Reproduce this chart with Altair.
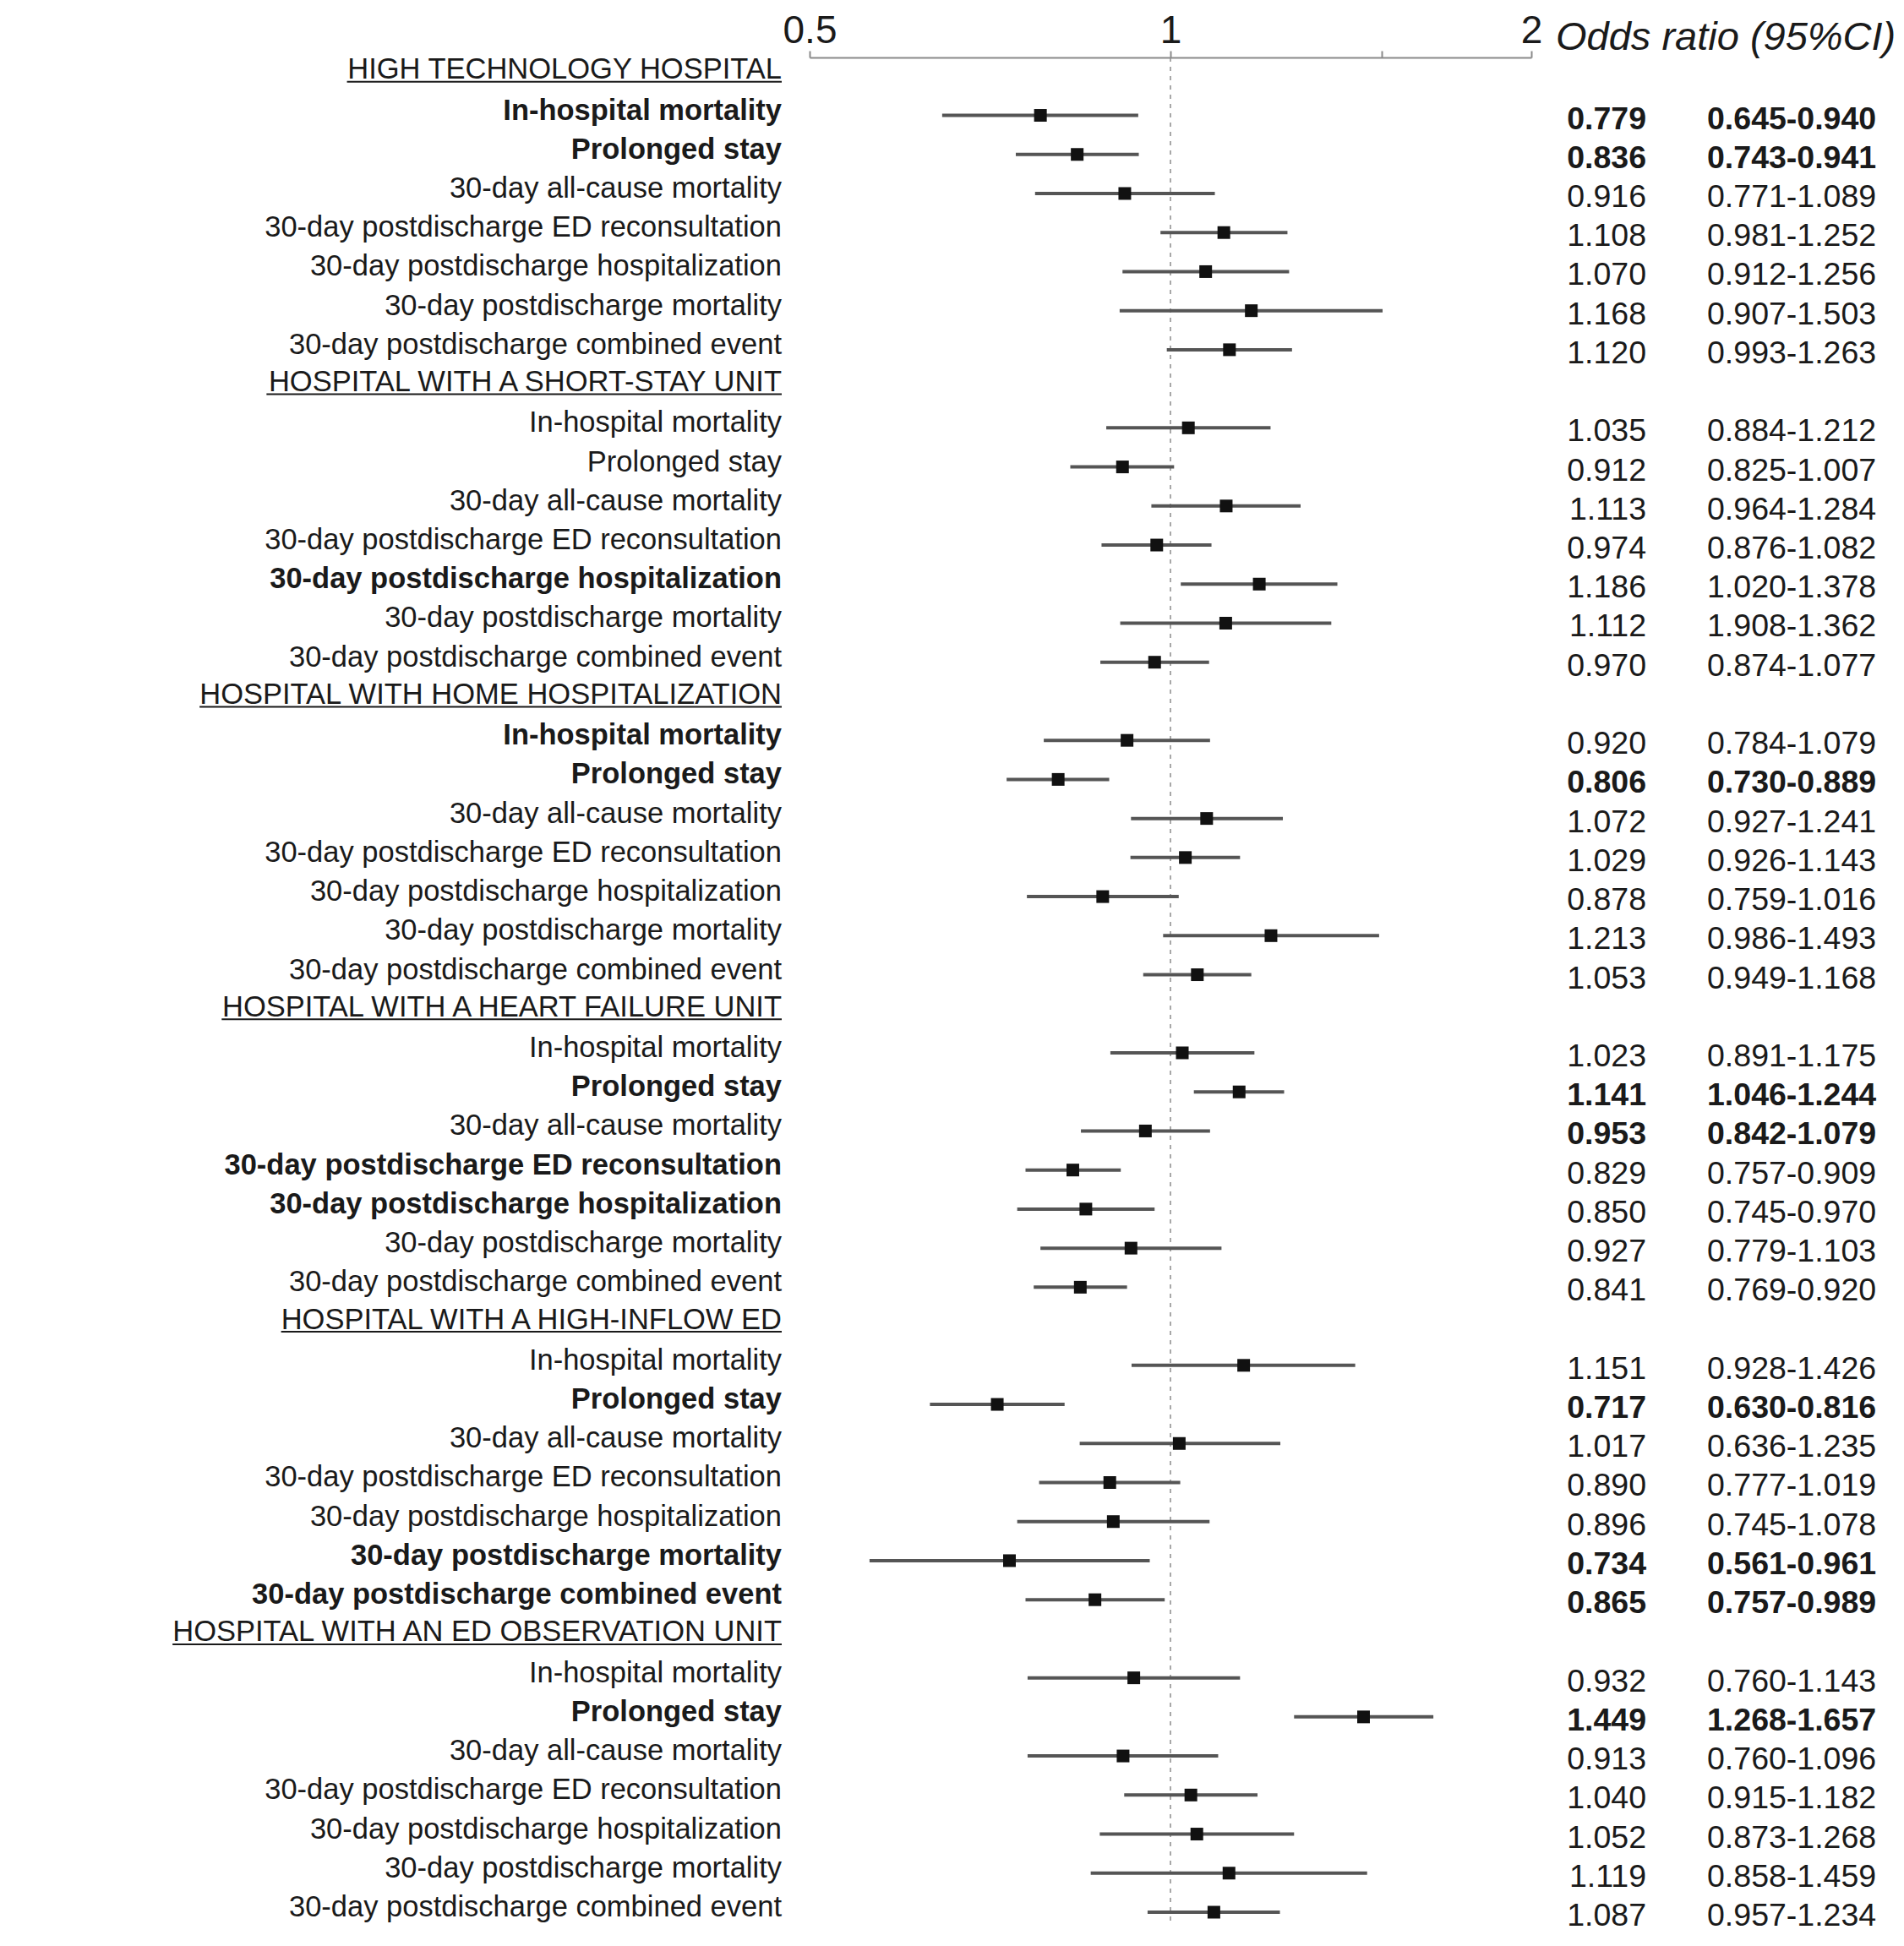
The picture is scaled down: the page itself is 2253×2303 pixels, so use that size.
import altair as alt
import pandas as pd

# ---------------- data ----------------
sections = [
    "HIGH TECHNOLOGY HOSPITAL",
    "HOSPITAL WITH A SHORT-STAY UNIT",
    "HOSPITAL WITH HOME HOSPITALIZATION",
    "HOSPITAL WITH A HEART FAILURE UNIT",
    "HOSPITAL WITH A HIGH-INFLOW ED",
    "HOSPITAL WITH AN ED OBSERVATION UNIT",
]
outcomes = [
    "In-hospital mortality",
    "Prolonged stay",
    "30-day all-cause mortality",
    "30-day postdischarge ED reconsultation",
    "30-day postdischarge hospitalization",
    "30-day postdischarge mortality",
    "30-day postdischarge combined event",
]

# odds ratios (as printed)
or_ht = [0.779, 0.836, 0.916, 1.108, 1.070, 1.168, 1.120]
or_ss = [1.035, 0.912, 1.113, 0.974, 1.186, 1.112, 0.970]
or_hh = [0.920, 0.806, 1.072, 1.029, 0.878, 1.213, 1.053]
or_hf = [1.023, 1.141, 0.953, 0.829, 0.850, 0.927, 0.841]
or_hi = [1.151, 0.717, 1.017, 0.890, 0.896, 0.734, 0.865]
or_ob = [0.932, 1.449, 0.913, 1.040, 1.052, 1.119, 1.087]

# printed confidence intervals
ci_ht = ["0.645-0.940", "0.743-0.941", "0.771-1.089", "0.981-1.252", "0.912-1.256", "0.907-1.503", "0.993-1.263"]
ci_ss = ["0.884-1.212", "0.825-1.007", "0.964-1.284", "0.876-1.082", "1.020-1.378", "1.908-1.362", "0.874-1.077"]
ci_hh = ["0.784-1.079", "0.730-0.889", "0.927-1.241", "0.926-1.143", "0.759-1.016", "0.986-1.493", "0.949-1.168"]
ci_hf = ["0.891-1.175", "1.046-1.244", "0.842-1.079", "0.757-0.909", "0.745-0.970", "0.779-1.103", "0.769-0.920"]
ci_hi = ["0.928-1.426", "0.630-0.816", "0.636-1.235", "0.777-1.019", "0.745-1.078", "0.561-0.961", "0.757-0.989"]
ci_ob = ["0.760-1.143", "1.268-1.657", "0.760-1.096", "0.915-1.182", "0.873-1.268", "0.858-1.459", "0.957-1.234"]

# interval ends as drawn in the plot
lo_ht = [0.645, 0.743, 0.771, 0.981, 0.912, 0.907, 0.993]
hi_ht = [0.940, 0.941, 1.089, 1.252, 1.256, 1.503, 1.263]
lo_ss = [0.884, 0.825, 0.964, 0.876, 1.020, 0.908, 0.874]
hi_ss = [1.212, 1.007, 1.284, 1.082, 1.378, 1.362, 1.077]
lo_hh = [0.784, 0.730, 0.927, 0.926, 0.759, 0.986, 0.949]
hi_hh = [1.079, 0.889, 1.241, 1.143, 1.016, 1.493, 1.168]
lo_hf = [0.891, 1.046, 0.842, 0.757, 0.745, 0.779, 0.769]
hi_hf = [1.175, 1.244, 1.079, 0.909, 0.970, 1.103, 0.920]
lo_hi = [0.928, 0.630, 0.840, 0.777, 0.745, 0.561, 0.757]
hi_hi = [1.426, 0.816, 1.235, 1.019, 1.078, 0.961, 0.989]
lo_ob = [0.760, 1.268, 0.760, 0.915, 0.873, 0.858, 0.957]
hi_ob = [1.143, 1.657, 1.096, 1.182, 1.268, 1.459, 1.234]

# bold flags: row label / numbers
lb_ht = [1, 1, 0, 0, 0, 0, 0]; nb_ht = [1, 1, 0, 0, 0, 0, 0]
lb_ss = [0, 0, 0, 0, 1, 0, 0]; nb_ss = [0, 0, 0, 0, 0, 0, 0]
lb_hh = [1, 1, 0, 0, 0, 0, 0]; nb_hh = [0, 1, 0, 0, 0, 0, 0]
lb_hf = [0, 1, 0, 1, 1, 0, 0]; nb_hf = [0, 1, 1, 0, 0, 0, 0]
lb_hi = [0, 1, 0, 0, 0, 1, 1]; nb_hi = [0, 1, 0, 0, 0, 1, 1]
lb_ob = [0, 1, 0, 0, 0, 0, 0]; nb_ob = [0, 1, 0, 0, 0, 0, 0]

axis_values = [0.5, 1, 1.5, 2]
header_title = "Odds ratio (95%CI)"

ORS = [or_ht, or_ss, or_hh, or_hf, or_hi, or_ob]
CIS = [ci_ht, ci_ss, ci_hh, ci_hf, ci_hi, ci_ob]
LOS = [lo_ht, lo_ss, lo_hh, lo_hf, lo_hi, lo_ob]
HIS = [hi_ht, hi_ss, hi_hh, hi_hf, hi_hi, hi_ob]
LBS = [lb_ht, lb_ss, lb_hh, lb_hf, lb_hi, lb_ob]
NBS = [nb_ht, nb_ss, nb_hh, nb_hf, nb_hi, nb_ob]

items, headers = [], []
r = 0
for s, sec in enumerate(sections):
    headers.append({"row": r, "label": sec})
    r += 1
    for k, name in enumerate(outcomes):
        items.append({
            "row": r, "label": name, "orv": ORS[s][k], "lo": LOS[s][k], "hi": HIS[s][k],
            "or_txt": f"{ORS[s][k]:.3f}", "ci_txt": CIS[s][k],
            "lbold": LBS[s][k], "nbold": NBS[s][k],
        })
        r += 1
items = pd.DataFrame(items)
headers_df = pd.DataFrame(headers)
n_rows = r

# ---------------- styling ----------------
SANS = "Liberation Sans, Arial, Helvetica, sans-serif"
TXT = "#1a1a1a"
LABEL_X = 917
LABEL_FS = 34.5

# Liberation Sans advance widths and main kerning pairs (1/1000 em),
# used only to size the underline of the section headers
AW = {"A": 667, "B": 667, "C": 722, "D": 722, "E": 667, "F": 611, "G": 778, "H": 722,
      "I": 278, "J": 500, "K": 667, "L": 556, "M": 833, "N": 722, "O": 778, "P": 667,
      "Q": 778, "R": 722, "S": 667, "T": 611, "U": 722, "V": 667, "W": 944, "X": 667,
      "Y": 667, "Z": 611, " ": 278, "-": 333}
KERN = {"AT": -74, "AV": -74, "AW": -37, "AY": -74, "A ": -55, " A": -55,
        "LT": -74, "LV": -74, "LW": -74, "LY": -74, "L ": -37, "PA": -74,
        "TA": -74, "VA": -74, "WA": -37, "YA": -74, " T": -18, " Y": -18,
        "FA": -55, "RT": -18, "RV": -18, "RW": -18, "RY": -18}


def text_width(s):
    w = sum(AW.get(c, 600) for c in s)
    w += sum(KERN.get(s[i:i + 2], 0) for i in range(len(s) - 1))
    return w / 1000 * LABEL_FS


yscale = alt.Scale(domain=[0, n_rows - 1], range=[22.3, 2195])
xscale = alt.Scale(type="log", domain=[0.5, 2], range=[950, 1804], nice=False)
yenc = alt.Y("row:Q", scale=yscale, axis=None)

xaxis = alt.Axis(
    orient="top", values=axis_values, title="",
    labelExpr="datum.value == 1.5 ? '' : format(datum.value, '~g')",
    labelFont=SANS, labelFontSize=46, labelColor=TXT, labelPadding=0,
    labelFlush=False, labelOverlap=False,
    tickSize=8, tickWidth=2, tickColor="#8a8a8a",
    domainColor="#8a8a8a", domainWidth=2, grid=False,
)

ref = alt.Chart(pd.DataFrame({"v": [1.0]})).mark_rule(
    color="#8c8c8c", strokeWidth=1.5, strokeDash=[5, 6]
).encode(x=alt.X("v:Q", scale=xscale, axis=xaxis), y=alt.value(0), y2=alt.value(2209))

ci = alt.Chart(items).mark_rule(color="#555555", strokeWidth=4).encode(
    x=alt.X("lo:Q", scale=xscale), x2="hi:Q", y=yenc
)
pts = alt.Chart(items).mark_square(size=225, color="#111111", opacity=1).encode(
    x=alt.X("orv:Q", scale=xscale), y=yenc
)

lab_reg = alt.Chart(items).transform_filter("datum.lbold == 0").mark_text(
    align="right", baseline="middle", dy=-5, font=SANS, fontSize=LABEL_FS, color=TXT
).encode(x=alt.value(LABEL_X), y=yenc, text="label:N")
lab_bold = alt.Chart(items).transform_filter("datum.lbold == 1").mark_text(
    align="right", baseline="middle", dy=-5, font=SANS, fontSize=LABEL_FS,
    fontWeight="bold", color=TXT
).encode(x=alt.value(LABEL_X), y=yenc, text="label:N")

hdr = alt.Chart(headers_df).mark_text(
    align="right", baseline="alphabetic", dy=3, font=SANS, fontSize=LABEL_FS, color=TXT
).encode(x=alt.value(LABEL_X), y=yenc, text="label:N")

underlines = []
for h in headers:
    w = text_width(h["label"])
    underlines.append(
        alt.Chart(pd.DataFrame([h])).mark_rule(color=TXT, strokeWidth=2, yOffset=6.5).encode(
            x=alt.value(LABEL_X - w), x2=alt.value(LABEL_X), y=yenc
        )
    )

num_layers = []
for b in (0, 1):
    kw = {"fontWeight": "bold"} if b else {}
    num_layers.append(alt.Chart(items).transform_filter(f"datum.nbold == {b}").mark_text(
        align="right", baseline="middle", dy=5, font=SANS, fontSize=37.5, color=TXT, **kw
    ).encode(x=alt.value(1940), y=yenc, text="or_txt:N"))
    num_layers.append(alt.Chart(items).transform_filter(f"datum.nbold == {b}").mark_text(
        align="left", baseline="middle", dy=5, font=SANS, fontSize=37.5, color=TXT, **kw
    ).encode(x=alt.value(2012), y=yenc, text="ci_txt:N"))

title_txt = alt.Chart(pd.DataFrame({"t": [header_title]})).mark_text(
    align="left", baseline="middle", font=SANS, fontSize=47, fontStyle="italic", color=TXT
).encode(x=alt.value(1833), y=alt.value(-23), text="t:N")

chart = alt.layer(
    ref, ci, pts, lab_reg, lab_bold, hdr, *underlines, *num_layers, title_txt
).properties(
    width=2237, height=2220,
    autosize=alt.AutoSizeParams(type="none"),
    padding={"left": 0, "top": 60, "right": 0, "bottom": 0},
    background="white",
).configure_view(strokeWidth=0)

chart.save("out.html", embed_options={"renderer": "svg", "actions": False})
